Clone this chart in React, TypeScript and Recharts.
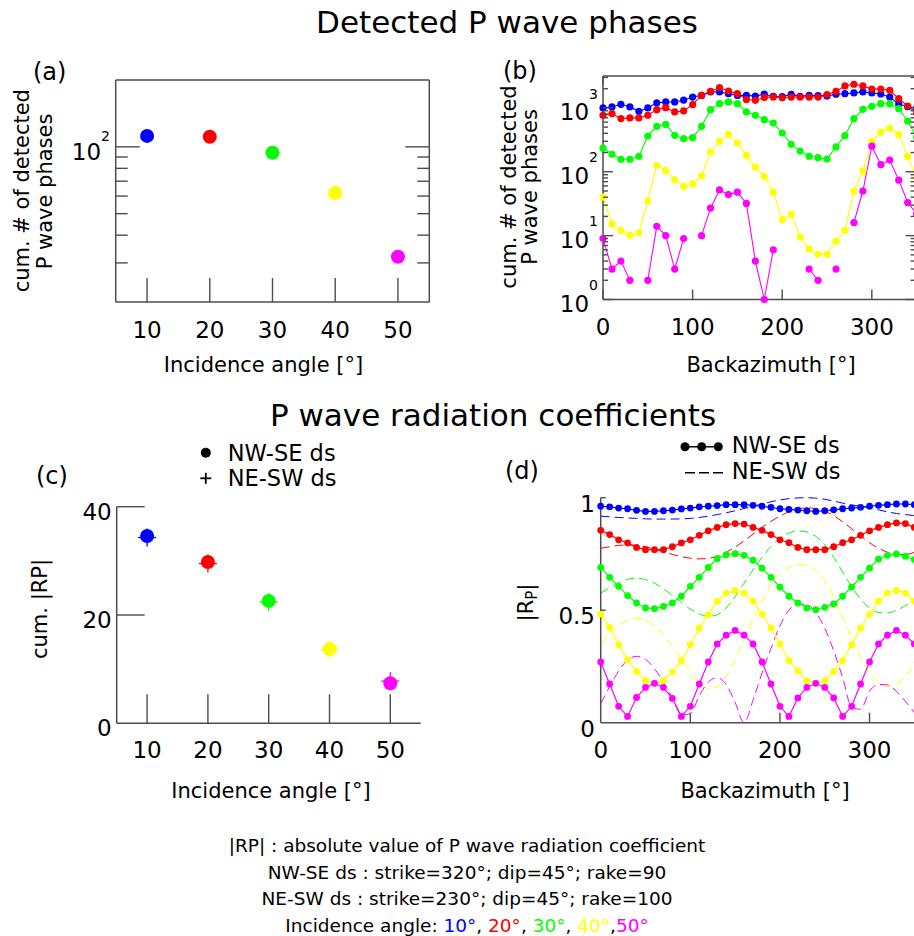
import React from "react";
import { LineChart, Line, ScatterChart, Scatter, XAxis, YAxis } from "recharts";

const FONT = "'DejaVu Sans', sans-serif";
const AX = "#4d4d4d";

// (a) and (c): one value per incidence angle
const incidence = [10, 20, 30, 40, 50];
const incColors = ["#0000ff", "#ff0000", "#00ff00", "#ffff00", "#ff00ff"];
const cumPhases = [112, 111, 94, 62, 32];
const cumRpNWSE = [34.6, 29.8, 22.6, 13.7, 7.4];
const cumRpNESW = [34.3, 29.5, 22.4, 13.6, 7.8];

// (b) and (d): backazimuth bins
const backazimuth = [
  0, 10, 20, 30, 40, 50, 60, 70, 80, 90, 100, 110, 120, 130, 140, 150, 160, 170,
  180, 190, 200, 210, 220, 230, 240, 250, 260, 270, 280, 290, 300, 310, 320, 330, 340, 350,
];

// (b) cumulative number of detected phases per backazimuth
const phases10 = [1000, 1035, 1140, 1035, 885, 1000, 1200, 1240, 1240, 1320, 1480, 1570, 1780, 1780, 1670, 1570, 1570, 1530,
  1640, 1520, 1510, 1630, 1515, 1570, 1560, 1540, 1640, 1670, 1715, 1780, 1715, 1650, 1480, 1150, 1045, 1000];
const phases20 = [765, 815, 680, 697, 697, 765, 940, 1010, 865, 897, 1125, 1575, 1820, 2080, 1840, 1675, 1350, 1315,
  1460, 1480, 1440, 1480, 1480, 1480, 1480, 1615, 1820, 2210, 2345, 2210, 1970, 1970, 1890, 1400, 1070, 830];
const phases30 = [235, 188, 157, 157, 175, 363, 514, 553, 372, 330, 342, 514, 940, 1167, 1240, 1167, 865, 765,
  655, 580, 405, 269, 211, 175, 166, 158, 245, 368, 679, 950, 1060, 1165, 1165, 973, 624, 350];
const phases40 = [40, 15.3, 12.1, 10.1, 11.1, 35, 126, 105, 75, 59, 65, 86, 204, 300, 386, 282, 181, 118,
  85, 48, 17.8, 21.5, 9.5, 6.2, 5.1, 5.1, 8.2, 12.1, 50, 103, 299, 419, 484, 381, 174, 80];
const phases50 = [9, 3, 4, 2, null, 2, 14, 10, 3, 9, null, 10, 27, 52, 44, 48, 32, 4,
  1, 6, null, null, null, 3, 2, null, 3, null, 16, 50, 252, 129, 153, 74, 33, 22];

// (d) |Rp| for NW-SE ds (dots) and NE-SW ds (dashed)
const rpNW10 = [0.962, 0.959, 0.954, 0.951, 0.944, 0.939, 0.939, 0.942, 0.945, 0.95, 0.954, 0.959, 0.962, 0.965, 0.969, 0.969, 0.969, 0.966,
  0.962, 0.957, 0.951, 0.948, 0.945, 0.942, 0.939, 0.942, 0.946, 0.951, 0.954, 0.957, 0.962, 0.966, 0.969, 0.972, 0.972, 0.969];
const rpNW20 = [0.855, 0.836, 0.813, 0.799, 0.779, 0.769, 0.769, 0.769, 0.782, 0.799, 0.813, 0.833, 0.853, 0.868, 0.88, 0.885, 0.883, 0.868,
  0.855, 0.836, 0.813, 0.8, 0.779, 0.769, 0.769, 0.769, 0.782, 0.8, 0.813, 0.833, 0.853, 0.868, 0.88, 0.888, 0.885, 0.868];
const rpNW30 = [0.69, 0.646, 0.606, 0.565, 0.532, 0.51, 0.507, 0.517, 0.532, 0.562, 0.606, 0.646, 0.69, 0.729, 0.747, 0.751, 0.744, 0.722,
  0.687, 0.646, 0.603, 0.562, 0.532, 0.51, 0.502, 0.513, 0.528, 0.562, 0.603, 0.646, 0.687, 0.727, 0.744, 0.75, 0.74, 0.725];
const rpNW40 = [0.483, 0.424, 0.347, 0.28, 0.228, 0.187, 0.176, 0.187, 0.225, 0.276, 0.347, 0.421, 0.48, 0.54, 0.576, 0.587, 0.576, 0.54,
  0.483, 0.421, 0.35, 0.276, 0.231, 0.187, 0.176, 0.187, 0.228, 0.276, 0.347, 0.421, 0.483, 0.54, 0.576, 0.588, 0.576, 0.54];
const rpNW50 = [0.27, 0.172, 0.073, 0.028, 0.112, 0.157, 0.175, 0.157, 0.108, 0.028, 0.073, 0.172, 0.27, 0.35, 0.389, 0.41, 0.389, 0.35,
  0.27, 0.172, 0.073, 0.028, 0.11, 0.157, 0.175, 0.157, 0.11, 0.028, 0.073, 0.172, 0.27, 0.35, 0.389, 0.41, 0.389, 0.35];

const rpNE10 = [0.918, 0.915, 0.912, 0.91, 0.908, 0.906, 0.905, 0.905, 0.905, 0.906, 0.908, 0.912, 0.918, 0.925, 0.933, 0.942, 0.952, 0.962,
  0.972, 0.982, 0.99, 0.996, 0.999, 1.0, 0.998, 0.993, 0.985, 0.976, 0.968, 0.962, 0.955, 0.946, 0.937, 0.93, 0.925, 0.92];
const rpNE20 = [0.775, 0.782, 0.788, 0.79, 0.788, 0.782, 0.772, 0.76, 0.748, 0.738, 0.731, 0.728, 0.73, 0.74, 0.757, 0.78, 0.808, 0.838,
  0.868, 0.895, 0.918, 0.937, 0.95, 0.955, 0.952, 0.94, 0.92, 0.893, 0.862, 0.83, 0.8, 0.775, 0.758, 0.748, 0.748, 0.757];
const rpNE30 = [0.575, 0.6, 0.622, 0.637, 0.642, 0.636, 0.62, 0.595, 0.565, 0.535, 0.505, 0.483, 0.473, 0.48, 0.51, 0.56, 0.62, 0.68,
  0.735, 0.783, 0.82, 0.843, 0.852, 0.848, 0.828, 0.79, 0.735, 0.67, 0.605, 0.55, 0.51, 0.49, 0.488, 0.5, 0.52, 0.548];
const rpNE40 = [0.35, 0.395, 0.43, 0.455, 0.463, 0.455, 0.43, 0.39, 0.34, 0.285, 0.225, 0.178, 0.152, 0.16, 0.205, 0.28, 0.37, 0.46,
  0.54, 0.61, 0.66, 0.69, 0.703, 0.7, 0.675, 0.63, 0.56, 0.47, 0.38, 0.29, 0.22, 0.18, 0.162, 0.17, 0.205, 0.27];
const rpNE50 = [0.085, 0.16, 0.23, 0.278, 0.295, 0.282, 0.24, 0.18, 0.11, 0.035, 0.04, 0.12, 0.18, 0.2, 0.17, 0.09, 0.0, 0.1,
  0.22, 0.33, 0.43, 0.5, 0.528, 0.525, 0.49, 0.42, 0.32, 0.2, 0.07, 0.06, 0.14, 0.17, 0.168, 0.14, 0.095, 0.045];

// ticks
const incTicks = [10, 20, 30, 40, 50];
const bazTicks = [0, 100, 200, 300];
const logTicksA = [30, 40, 50, 60, 70, 80, 90, 100];
const logTicksB = [1, 2, 3, 4, 5, 6, 7, 8, 9, 10, 20, 30, 40, 50, 60, 70, 80, 90,
  100, 200, 300, 400, 500, 600, 700, 800, 900, 1000, 2000, 3000];
const rpTicksC = [0, 20, 40];
const rpTicksD = [0, 0.5, 1];

const phaseSeries = [phases10, phases20, phases30, phases40, phases50];
const rpNWSeries = [rpNW10, rpNW20, rpNW30, rpNW40, rpNW50];
const rpNESeries = [rpNE10, rpNE20, rpNE30, rpNE40, rpNE50];

const phaseRows = backazimuth.map((b, i) => {
  const r: Record<string, number | null> = { baz: b };
  phaseSeries.forEach((s, k) => (r["s" + k] = s[i]));
  return r;
});
const rpRows = backazimuth.map((b, i) => {
  const r: Record<string, number> = { baz: b };
  rpNWSeries.forEach((s, k) => (r["nw" + k] = s[i]));
  rpNESeries.forEach((s, k) => (r["ne" + k] = s[i]));
  return r;
});
const phaseIncRows = incidence.map((x, i) => ({ x, y: cumPhases[i], color: incColors[i] }));
const rpIncNW = incidence.map((x, i) => ({ x, y: cumRpNWSE[i], color: incColors[i] }));
const rpIncNE = incidence.map((x, i) => ({ x, y: cumRpNESW[i], color: incColors[i] }));

type Side = "bottom" | "top" | "left" | "right";

const isPow10 = (v: number) => Math.abs(Math.log10(v) - Math.round(Math.log10(v))) < 1e-9;
const logLabel = (supDy: number) => (v: number) =>
  isPow10(v) ? (
    <>
      <tspan>10</tspan>
      <tspan dy={supDy} fontSize={14}>{Math.round(Math.log10(v))}</tspan>
    </>
  ) : null;

function tickRenderer(side: Side, len: (v: number) => number, label?: (v: number) => React.ReactNode, off = 0, dy = 0) {
  return (p: any) => {
    const x = Number(p.x);
    const y = Number(p.y);
    const v = Number(p.payload?.value);
    const L = len(v);
    const x2 = side === "left" ? x + L : side === "right" ? x - L : x;
    const y2 = side === "bottom" ? y - L : side === "top" ? y + L : y;
    const lab = label ? label(v) : null;
    return (
      <g>
        {L > 0 && <line x1={x} y1={y} x2={x2} y2={y2} stroke={AX} strokeWidth={1.4} />}
        {lab != null && (
          <text
            x={side === "left" ? x - off : x}
            y={y + dy}
            textAnchor={side === "left" ? "end" : "middle"}
            fontFamily={FONT}
            fontSize={23}
            fill="#000"
          >
            {lab}
          </text>
        )}
      </g>
    );
  };
}

// axes are 1px thick so that recharts still draws them; margins are reduced by that 1px
const axisLine = { stroke: AX, strokeWidth: 1.5 };
const common = { tickSize: 0, tickMargin: 0, tickLine: false, interval: 0 as const, axisLine };

const dotShape = (r: number) => (p: any) => <circle cx={p.cx} cy={p.cy} r={r} fill={p.payload.color} />;
const plusShape = (a: number) => (p: any) => (
  <g stroke={p.payload.color} strokeWidth={1.3}>
    <line x1={p.cx - a} x2={p.cx + a} y1={p.cy} y2={p.cy} />
    <line x1={p.cx} x2={p.cx} y1={p.cy - a} y2={p.cy + a} />
  </g>
);

function PanelA() {
  return (
    <ScatterChart width={460} height={320} margin={{ top: 39, right: 29.7, bottom: 57, left: 114.7 }}>
      <XAxis dataKey="x" type="number" domain={[5, 55]} ticks={incTicks} height={1} {...common}
        tick={tickRenderer("bottom", () => 24, (v) => String(v), 0, 36.3)} />
      <XAxis xAxisId="top" orientation="top" type="number" domain={[5, 55]} ticks={incTicks} height={1} allowDataOverflow {...common}
        tick={tickRenderer("top", () => 23)} />
      <YAxis dataKey="y" type="number" scale="log" domain={[20, 200]} ticks={logTicksA} width={1} {...common}
        tick={tickRenderer("left", (v) => (v === 100 ? 24 : 12), logLabel(-19), 5.7, 13.3)} />
      <YAxis yAxisId="right" orientation="right" type="number" scale="log" domain={[20, 200]} ticks={logTicksA} width={1} allowDataOverflow {...common}
        tick={tickRenderer("right", (v) => (v === 100 ? 24 : 12))} />
      <Scatter data={phaseIncRows} shape={dotShape(7)} isAnimationActive={false} />
    </ScatterChart>
  );
}

function PanelB() {
  return (
    <LineChart width={460} height={320} data={phaseRows} margin={{ top: 35, right: 13.4, bottom: 59.5, left: 122 }}>
      <XAxis dataKey="baz" type="number" domain={[0, 360]} ticks={bazTicks} height={1} {...common}
        tick={tickRenderer("bottom", () => 10, (v) => String(v), 0, 35.5)} />
      <XAxis xAxisId="top" orientation="top" type="number" domain={[0, 360]} ticks={bazTicks} height={1} allowDataOverflow {...common}
        tick={tickRenderer("top", () => 9)} />
      <YAxis type="number" scale="log" domain={[1, 3160]} ticks={logTicksB} width={1} {...common}
        tick={tickRenderer("left", (v) => (isPow10(v) ? 10 : 5), logLabel(-21.7), 5, 12.3)} />
      <YAxis yAxisId="right" orientation="right" type="number" scale="log" domain={[1, 3160]} ticks={logTicksB} width={1} allowDataOverflow {...common}
        tick={tickRenderer("right", (v) => (isPow10(v) ? 20 : 15))} />
      {phaseSeries.map((_, k) => (
        <Line key={k} dataKey={"s" + k} type="linear" stroke={incColors[k]} strokeWidth={1.1}
          dot={{ r: 3.6, fill: incColors[k], stroke: incColors[k], strokeWidth: 0 }}
          activeDot={false} connectNulls={false} isAnimationActive={false} />
      ))}
    </LineChart>
  );
}

function PanelC() {
  return (
    <ScatterChart width={460} height={300} margin={{ top: 26.7, right: 39.3, bottom: 55.7, left: 115.7 }}>
      <XAxis dataKey="x" type="number" domain={[5, 55]} ticks={incTicks} height={1} {...common}
        tick={tickRenderer("bottom", () => 29, (v) => String(v), 0, 35)} />
      <YAxis dataKey="y" type="number" domain={[0, 40]} ticks={rpTicksC} width={1} {...common}
        tick={tickRenderer("left", (v) => (v === 0 ? 0 : 28), (v) => String(v), 5, 13)} />
      <Scatter data={rpIncNE} shape={plusShape(9)} isAnimationActive={false} />
      <Scatter data={rpIncNW} shape={dotShape(7)} isAnimationActive={false} />
    </ScatterChart>
  );
}

function PanelD() {
  return (
    <LineChart width={460} height={300} data={rpRows} margin={{ top: 17.7, right: 16.7, bottom: 56.3, left: 119.7 }}>
      <XAxis dataKey="baz" type="number" domain={[0, 360]} ticks={bazTicks} height={1} {...common}
        tick={tickRenderer("bottom", (v) => (v === 0 ? 0 : 10), (v) => String(v), 0, 35.6)} />
      <YAxis type="number" domain={[0, 1]} ticks={rpTicksD} width={1} {...common}
        tick={tickRenderer("left", (v) => (v === 0 ? 0 : 5), (v) => String(v), 5.7, 14)} />
      {rpNESeries.map((_, k) => (
        <Line key={"ne" + k} dataKey={"ne" + k} type="monotone" stroke={incColors[k]} strokeWidth={1}
          strokeDasharray="9 5" dot={false} activeDot={false} isAnimationActive={false} />
      ))}
      {rpNWSeries.map((_, k) => (
        <Line key={"nw" + k} dataKey={"nw" + k} type="linear" stroke={incColors[k]} strokeWidth={1.2}
          dot={{ r: 3.4, fill: incColors[k], stroke: incColors[k], strokeWidth: 0 }}
          activeDot={false} isAnimationActive={false} />
      ))}
    </LineChart>
  );
}

function VText({ x, y, size, children }: { x: number; y: number; size: number; children: React.ReactNode }) {
  return (
    <text transform={`translate(${x},${y}) rotate(-90)`} textAnchor="middle" dy="0.34em" fontSize={size} fontFamily={FONT}>
      {children}
    </text>
  );
}

function Overlay() {
  const t = { fontFamily: FONT, fill: "#000" };
  return (
    <svg width={914} height={936} style={{ position: "absolute", left: 0, top: 0, pointerEvents: "none" }}>
      <text x={507} y={33.3} textAnchor="middle" fontSize={31} {...t}>Detected P wave phases</text>
      <text x={493} y={426} textAnchor="middle" fontSize={31} {...t}>P wave radiation coefficients</text>

      <text x={33} y={80} fontSize={24} {...t}>(a)</text>
      <text x={503} y={79} fontSize={24} {...t}>(b)</text>
      <text x={36} y={484} fontSize={24} {...t}>(c)</text>
      <text x={505} y={479} fontSize={24} {...t}>(d)</text>

      <text x={263.5} y={372} textAnchor="middle" fontSize={21} {...t}>Incidence angle [°]</text>
      <text x={771} y={372} textAnchor="middle" fontSize={21} {...t}>Backazimuth [°]</text>
      <text x={271} y={798} textAnchor="middle" fontSize={21} {...t}>Incidence angle [°]</text>
      <text x={765} y={798} textAnchor="middle" fontSize={21} {...t}>Backazimuth [°]</text>

      <VText x={21.7} y={190.7} size={21}>cum. # of detected</VText>
      <VText x={44.5} y={191.5} size={21}>P wave phases</VText>
      <VText x={508.5} y={187} size={21}>cum. # of detected</VText>
      <VText x={530} y={187} size={21}>P wave phases</VText>
      <VText x={40} y={609} size={21}>cum. |RP|</VText>
      <VText x={526} y={602.5} size={21}>
        |R<tspan fontSize={15} dy={4}>P</tspan><tspan dy={-4}>|</tspan>
      </VText>

      {/* legend (c) */}
      <circle cx={205.8} cy={452.8} r={5} fill="#000" />
      <text x={227.7} y={461} fontSize={22.5} {...t}>NW-SE ds</text>
      <g stroke="#000" strokeWidth={1.8}>
        <line x1={200.3} x2={211.3} y1={478.3} y2={478.3} />
        <line x1={205.8} x2={205.8} y1={472.8} y2={483.8} />
      </g>
      <text x={227.7} y={486} fontSize={22.5} {...t}>NE-SW ds</text>

      {/* legend (d) */}
      <line x1={685} x2={718.3} y1={446.7} y2={446.7} stroke="#000" strokeWidth={1.5} />
      <circle cx={685} cy={446.7} r={4.5} fill="#000" />
      <circle cx={701.7} cy={446.7} r={4.5} fill="#000" />
      <circle cx={718.3} cy={446.7} r={4.5} fill="#000" />
      <text x={731.7} y={453} fontSize={22.5} {...t}>NW-SE ds</text>
      <line x1={685} x2={723} y1={472.7} y2={472.7} stroke="#000" strokeWidth={1.5} strokeDasharray="10 4" />
      <text x={731.7} y={479} fontSize={22.5} {...t}>NE-SW ds</text>

      {/* footer */}
      <g fontSize={18.5} textAnchor="middle" {...t}>
        <text x={467} y={851.7}>|RP| : absolute value of P wave radiation coefficient</text>
        <text x={467} y={879}>NW-SE ds : strike=320°; dip=45°; rake=90</text>
        <text x={467} y={905}>NE-SW ds : strike=230°; dip=45°; rake=100</text>
        <text x={467} y={931.5}>
          Incidence angle: <tspan fill={incColors[0]}>10°</tspan>, <tspan fill={incColors[1]}>20°</tspan>,{" "}
          <tspan fill={incColors[2]}>30°</tspan>, <tspan fill={incColors[3]}>40°</tspan>,<tspan fill={incColors[4]}>50°</tspan>
        </text>
      </g>
    </svg>
  );
}

export default function App() {
  return (
    <div style={{ position: "absolute", left: 0, top: 0, width: 914, height: 936, overflow: "hidden", background: "#fff", fontFamily: FONT }}>
      <div style={{ position: "absolute", left: 0, top: 40 }}><PanelA /></div>
      <div style={{ position: "absolute", left: 480, top: 40 }}><PanelB /></div>
      <div style={{ position: "absolute", left: 0, top: 480 }}><PanelC /></div>
      <div style={{ position: "absolute", left: 480, top: 480 }}><PanelD /></div>
      <Overlay />
    </div>
  );
}
